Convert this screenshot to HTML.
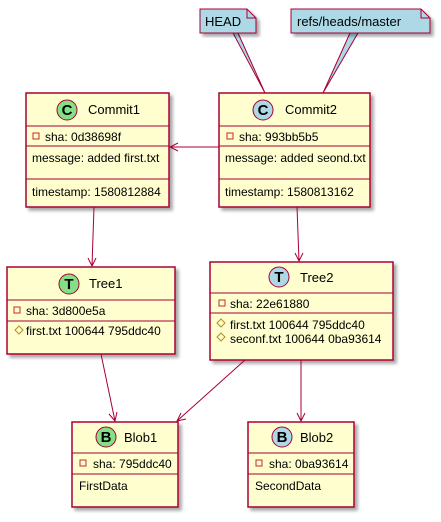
<!DOCTYPE html>
<html><head><style>body{margin:0;background:#fff}text{font-family:"Liberation Sans",sans-serif;font-size:12px;fill:#000}</style></head><body>
<svg width="441" height="517" viewBox="0 0 441 517" xmlns="http://www.w3.org/2000/svg">
<defs>
<filter id="sh" x="-10%" y="-10%" width="130%" height="130%"><feGaussianBlur in="SourceAlpha" stdDeviation="1.5"/><feOffset dx="3" dy="3"/><feComponentTransfer><feFuncA type="linear" slope="0.35"/></feComponentTransfer><feMerge><feMergeNode/><feMergeNode in="SourceGraphic"/></feMerge></filter>
</defs>
<g stroke="#A80036" fill="none" stroke-width="1">
<path d="M233,33 L265,93 L238,33" fill="#ADD8E6"/>
<path d="M350,33 L323,93 L358,33" fill="#ADD8E6"/>
</g>
<g filter="url(#sh)" stroke="#A80036" fill="#ADD8E6">
<path d="M200,9 H247 L256,18 V33 H200 Z"/>
<path d="M291,9 H421 L430,18 V33 H291 Z"/>
</g>
<g stroke="#A80036" fill="none"><path d="M247,9 V18 H256"/><path d="M421,9 V18 H430"/></g>
<text x="205" y="26" style="font-size:13px">HEAD</text>
<text x="297" y="26" style="font-size:13px">refs/heads/master</text>

<g filter="url(#sh)" stroke="#A80036" stroke-width="1.5" fill="#FEFECE">
<rect x="26" y="93" width="143" height="114"/>
<rect x="219" y="93" width="151" height="114"/>
<rect x="7" y="267" width="168" height="87"/>
<rect x="210" y="262" width="183" height="98"/>
<rect x="72" y="422" width="106" height="85"/>
<rect x="248" y="422" width="106" height="85"/>
</g>
<g stroke="#A80036" stroke-width="1">
<path d="M26,126H169M26,146H169M26,179H169"/>
<path d="M219,126H370M219,146H370M219,179H370"/>
<path d="M7,300H175M7,321H175"/>
<path d="M210,293H393M210,313H393"/>
<path d="M72,453H178M72,474H178"/>
<path d="M248,453H354M248,474H354"/>
</g>
<g stroke="#A80036" stroke-width="1">
<circle cx="67" cy="110" r="10" fill="#84E084"/>
<circle cx="263" cy="110" r="10" fill="#ADD8E6"/>
<circle cx="69" cy="284" r="10" fill="#84E084"/>
<circle cx="279" cy="277" r="10" fill="#ADD8E6"/>
<circle cx="106" cy="437" r="10" fill="#84E084"/>
<circle cx="282" cy="437" r="10" fill="#ADD8E6"/>
</g>
<g text-anchor="middle">
<text x="67" y="115" style="font-size:15px;font-weight:bold">C</text>
<text x="263" y="115" style="font-size:15px;font-weight:bold">C</text>
<text x="69" y="289" style="font-size:15px;font-weight:bold">T</text>
<text x="279" y="282" style="font-size:15px;font-weight:bold">T</text>
<text x="106" y="442" style="font-size:15px;font-weight:bold">B</text>
<text x="282" y="442" style="font-size:15px;font-weight:bold">B</text>
</g>
<text x="88" y="114" style="font-size:13px">Commit1</text>
<text x="285" y="114" style="font-size:13px">Commit2</text>
<text x="89" y="288" style="font-size:13px">Tree1</text>
<text x="300" y="282" style="font-size:13px">Tree2</text>
<text x="124" y="442" style="font-size:13px">Blob1</text>
<text x="300" y="442" style="font-size:13px">Blob2</text>
<g stroke="#C82930" fill="none" stroke-width="1">
<rect x="33" y="133" width="6" height="6"/>
<rect x="227" y="133" width="6" height="6"/>
<rect x="14" y="307" width="6" height="6"/>
<rect x="219" y="300" width="6" height="6"/>
<rect x="80" y="460" width="6" height="6"/>
<rect x="256" y="460" width="6" height="6"/>
</g>
<g stroke="#B38D22" fill="none">
<path d="M19,326 l4,4 -4,4 -4,-4z"/>
<path d="M221,319 l4,4 -4,4 -4,-4z"/>
<path d="M221,333 l4,4 -4,4 -4,-4z"/>
</g>
<text x="45" y="141">sha: 0d38698f</text>
<text x="32" y="162">message: added first.txt</text>
<text x="32" y="196">timestamp: 1580812884</text>
<text x="239" y="141">sha: 993bb5b5</text>
<text x="225" y="162">message: added seond.txt</text>
<text x="225" y="196">timestamp: 1580813162</text>
<text x="26" y="315">sha: 3d800e5a</text>
<text x="26" y="335">first.txt 100644 795ddc40</text>
<text x="230" y="308">sha: 22e61880</text>
<text x="230" y="329">first.txt 100644 795ddc40</text>
<text x="230" y="343">seconf.txt 100644 0ba93614</text>
<text x="93" y="468">sha: 795ddc40</text>
<text x="79" y="490">FirstData</text>
<text x="269" y="468">sha: 0ba93614</text>
<text x="255" y="490">SecondData</text>
<g stroke="#A80036" fill="none" stroke-width="1">
<path d="M219,147H170M178,143L170,147L178,151"/>
<path d="M94,207L92,266M88,258L92,266L96,258"/>
<path d="M297,207L299,261M295,253L299,261L303,253"/>
<path d="M101,354L115,421M109,414L115,421L117,412"/>
<path d="M245,360L177,421M181,413L177,421L186,419"/>
<path d="M301,360V421M297,413L301,421L305,413"/>
</g>
</svg>
</body></html>
